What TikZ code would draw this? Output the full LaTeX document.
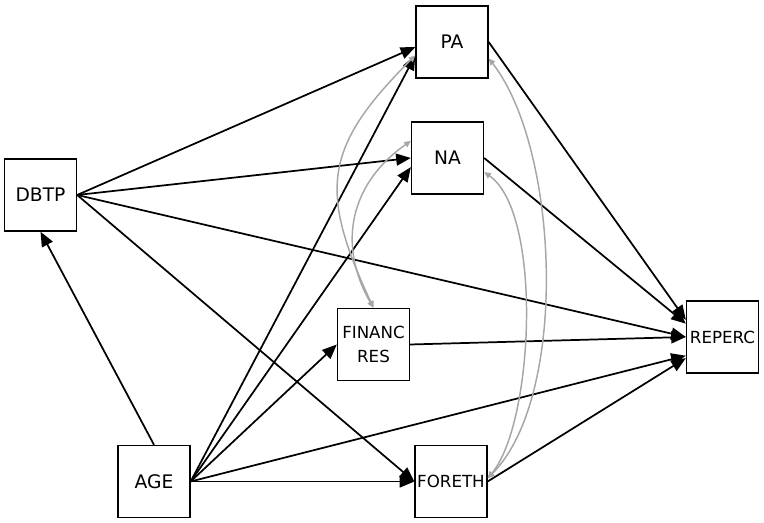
\documentclass[tikz,border=0pt]{standalone}
\usepackage{fontspec}
\setmainfont{DejaVu Sans}
\usetikzlibrary{arrows.meta}

\begin{document}
\begin{tikzpicture}[x=0.75pt,y=0.75pt,
    var/.style={draw, line width=1pt, minimum size=54pt, inner sep=0pt, font=\fontsize{14}{16}\selectfont},
    smallvar/.style={var, align=center, font=\fontsize{12.5}{18}\selectfont},
    effect/.style={-{Triangle[length=11pt,width=9pt]}, line width=1.3pt},
    corr/.style={{Triangle[length=5pt,width=4.5pt]}-{Triangle[length=5pt,width=4.5pt]}, draw=gray!70, line width=1.1pt}]
    \useasboundingbox (0,0) rectangle (764,523);

    % the variables
    \node[var] (pa) at (452,481) {PA};
    \node[var] (na) at (447.5,365) {NA};
    \node[var] (dbtp) at (40.5,328) {DBTP};
    \node[smallvar] (financ) at (373.5,178.5) {FINANC\\RES};
    \node[smallvar] (reperc) at (722.5,186) {REPERC};
    \node[var] (age) at (154,41.5) {AGE};
    \node[smallvar] (foreth) at (451,41.5) {FORETH};

    % draw the arrows
    \draw[effect] (dbtp.east) -- (pa.188);
    \draw[effect] (dbtp.east) -- (na.west);
    \draw[effect] (dbtp.east) -- (reperc.west);
    \draw[effect] (dbtp.east) -- (foreth.west);
    \draw[effect] (age.north) -- (dbtp.south);
    \draw[effect] (age.east) -- (pa.200);
    \draw[effect] (age.east) -- (na.194);
    \draw[effect] (age.east) -- (financ.west);
    \draw[effect] (age.east) -- (foreth.west);
    \draw[effect] (age.east) -- (reperc.207);
    \draw[effect] (pa.east) -- (reperc.155);
    \draw[effect] (na.east) -- (reperc.160);
    \draw[effect] (financ.east) -- (reperc.west);
    \draw[effect] (foreth.east) -- (reperc.210);

    % the correlations
    \draw[corr] (financ.north) to[out=115,in=225,looseness=1.3] (pa.200);
    \draw[corr] (financ.north) to[out=120,in=215,looseness=1.1] (na.155);
    \draw[corr] (pa.336) to[out=-52,in=45,looseness=0.7] (foreth.5);
    \draw[corr] (na.339) to[out=-35,in=50,looseness=0.6] (foreth.5);

\end{tikzpicture}
\end{document}
